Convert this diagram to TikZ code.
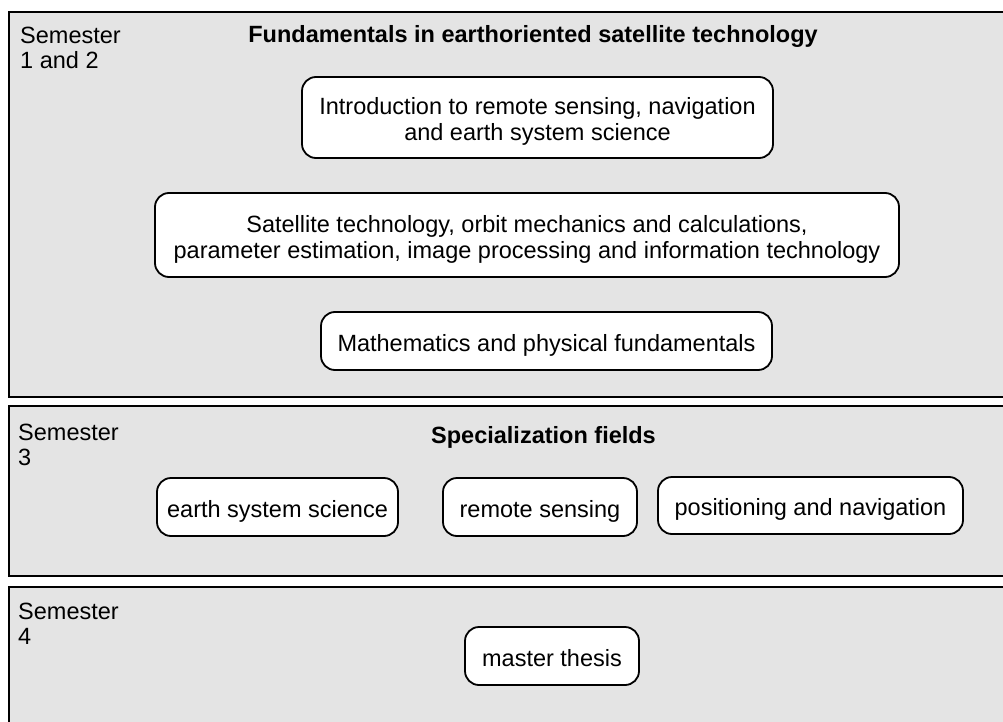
\documentclass[tikz,border=0pt]{standalone}
\usepackage{fontspec}
\setmainfont{Liberation Sans}
\definecolor{panelgray}{HTML}{E4E4E4}
\begin{document}
\begin{tikzpicture}[x=1pt,y=-1pt,
  panel/.style={draw=black, line width=2.6pt, fill=panelgray},
  box/.style={draw=black, line width=1.8pt, rounded corners=14pt, fill=white,
    align=center, inner sep=0pt, font=\fontsize{23.5}{26}\selectfont},
  oneline/.style={box, text height=22pt, text depth=2pt},
  twoline/.style={box, text height=49pt, text depth=2.2pt},
  semlabel/.style={anchor=north west, inner sep=0pt, align=left,
    font=\fontsize{23.5}{25}\selectfont},
  paneltitle/.style={anchor=base, inner sep=0pt, font=\fontsize{23.5}{26}\selectfont\bfseries}]
\useasboundingbox (0,0) rectangle (1003,722);
\fill[white] (0,0) rectangle (1003,722);
% panels
\draw[panel] (9,12) rectangle (1015,397);
\draw[panel] (9,406) rectangle (1015,576);
\draw[panel] (9,587) rectangle (1015,735);
% labels
\node[semlabel] (s1) at (20,27) {Semester\\1 and 2};
\node[semlabel] (s3) at (18,424) {Semester\\3};
\node[semlabel] (s4) at (18,603) {Semester\\4};
\node[paneltitle] (t1) at (533,43) {Fundamentals in earthoriented satellite technology};
\node[paneltitle] (t2) at (543.5,443) {Specialization fields};
% boxes
\node[twoline, minimum width=471pt, minimum height=81pt] (intro) at (537.5,117.5)
  {Introduction to remote sensing, navigation\\and earth system science};
\node[twoline, minimum width=744pt, minimum height=84pt] (sat) at (527,235)
  {Satellite technology, orbit mechanics and calculations,\\parameter estimation, image processing and information technology};
\node[oneline, minimum width=451pt, minimum height=58pt] (math) at (546.5,341)
  {Mathematics and physical fundamentals};
\node[oneline, minimum width=241pt, minimum height=58pt] (ess) at (277.5,507)
  {earth system science};
\node[oneline, minimum width=194pt, minimum height=58pt] (rs) at (540,507)
  {remote sensing};
\node[oneline, minimum width=305pt, minimum height=57pt] (pn) at (810.5,505.5)
  {positioning and navigation};
\node[oneline, minimum width=174pt, minimum height=58pt] (mt) at (552,656)
  {master thesis};
\end{tikzpicture}
\end{document}
